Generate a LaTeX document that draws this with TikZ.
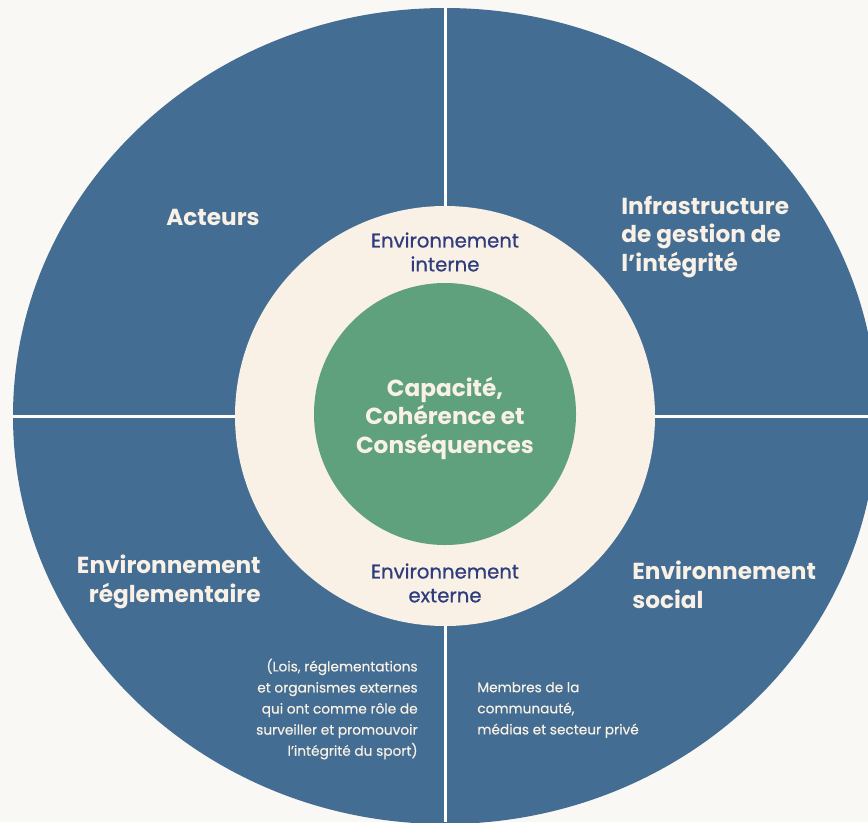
\documentclass[tikz,border=0pt]{standalone}
\usepackage{fontspec}
\setmainfont{Poppins}
\newfontfamily\medfont[FakeBold=0.7]{Poppins}
\newfontfamily\smallfont[FakeBold=0.4]{Poppins}
\usepackage{xcolor}
\usetikzlibrary{positioning}
\definecolor{bgpaper}{HTML}{FAF8F4}
\definecolor{ringblue}{HTML}{436D92}
\definecolor{cream}{HTML}{FAF1E6}
\definecolor{coregreen}{HTML}{5FA17C}
\definecolor{navy}{HTML}{2F3C7E}
\newcommand{\navy}[1]{\textcolor{navy}{#1}}

\tikzset{
  quarter/.style={font=\bfseries\fontsize{13.2}{16.2}\selectfont, text=cream, inner sep=0pt},
  ringlabel/.style={font=\medfont\fontsize{11.2}{13.6}\selectfont, align=center, inner sep=0pt},
  note/.style={font=\smallfont\fontsize{7.8}{12}\selectfont, text=cream, inner sep=0pt},
}

\begin{document}
\begin{tikzpicture}[x=0.02cm, y=-0.02cm]
  \fill[bgpaper] (0,0) rectangle (868,822);
  \useasboundingbox (0,0) rectangle (868,822);

  \begin{scope}
    \clip (0,0) rectangle (868,822);
    \fill[ringblue] (445,416) ellipse [x radius=432, y radius=408];
    \coordinate (top) at (445,8);
    \coordinate (bottom) at (445,822);
    \coordinate (left) at (13,416);
    \coordinate (right) at (868,416);
    \draw[white, line width=1.7pt]
    (top) -- (bottom)
    (left) -- (right);
    \fill[cream] (445,416) circle [radius=210];
    \fill[coregreen] (445,414) circle [radius=131];
  \end{scope}

  \node[quarter] (acteurs) at (213,217) {Acteurs};
  \node[quarter, anchor=west, align=left] (infra) at (621,237) {Infrastructure\\de gestion de\\l’intégrité};
  \node[ringlabel] (interne) at (445,252) {\navy{Environnement}\\\navy{interne}};
  \node[quarter, align=center] (core) at (445,418) {Capacité,\\Cohérence et\\Conséquences};
  \node[ringlabel] (externe) at (445,583) {\navy{Environnement}\\\navy{externe}};
  \node[quarter, anchor=east, align=right] (regl) at (261,582) {Environnement\\réglementaire};
  \node[quarter, anchor=west, align=left] (social) at (632,585) {Environnement\\social};
  \node[note, anchor=east, align=right] (lois) at (418,709) {(Lois, réglementations\\et organismes externes\\qui ont comme rôle de\\surveiller et promouvoir\\l’intégrité du sport)};
  \node[note, anchor=west, align=left] (membres) at (477,710) {Membres de la\\communauté,\\médias et secteur privé};
\end{tikzpicture}
\end{document}
